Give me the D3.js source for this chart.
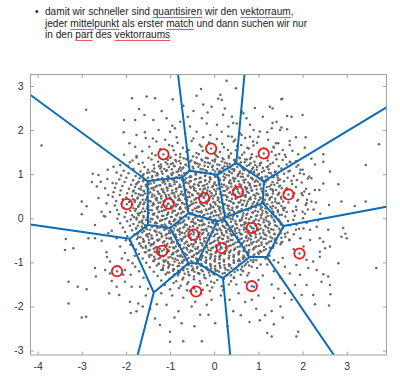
<!DOCTYPE html>
<html>
<head>
<meta charset="utf-8">
<script src="https://cdn.jsdelivr.net/npm/d3@7"></script>
<style>
  body { margin: 0; background: #fff; }
  #note {
    position: absolute; left: 45px; top: 6px;
    font-family: "Liberation Sans", Arial, sans-serif; font-size: 10.1px;
    line-height: 11.6px; color: #222; white-space: nowrap;
  }
  #note .bul { position: absolute; left: -10px; top: 0; }
  #note .sp {
    text-decoration: underline; text-decoration-color: #e8585c;
    text-decoration-thickness: 1px; text-underline-offset: 2px;
  }
  svg { position: absolute; left: 0; top: 0; }
</style>
</head>
<body>
<div id="note"><span class="bul">•</span>damit wir schneller sind <span class="sp">quantisiren</span> wir den <span class="sp">vektorraum</span>,<br>jeder <span class="sp">mittelpunkt</span> als erster <span class="sp">match</span> und dann suchen wir nur<br>in den <span class="sp">part</span> des <span class="sp">vektorraums</span></div>
<div id="viz"></div>
<script>
// centroids (red circles)
const centroids = [
  [-1.15, 1.45], [-0.07, 1.58], [1.12, 1.47],
  [-1.98, 0.32], [-1.03, 0.33], [-0.23, 0.46], [0.54, 0.6], [1.68, 0.54],
  [0.85, -0.22], [-0.47, -0.37], [-1.18, -0.74], [0.17, -0.675], [1.93, -0.8],
  [-2.2, -1.2], [-0.41, -1.66], [0.85, -1.54]
];

// sparse points around the cloud
const outerPoints = [
  [-3.91,1.65],[-2.9,2.46],[-1.86,2.72],[-1.53,2.76],[-1.34,2.72],[-1.7,2.48],[-1.58,2.34],[-2.04,2.23],[-1.79,2.23],
  [-2.05,1.95],[-1.76,1.89],[-1.57,1.95],[-1.92,1.7],[-1.79,1.62],[-1.55,1.82],[-2.04,1.44],[-1.76,1.38],[-1.91,1.27],
  [-2.13,1.21],[-2.28,1.17],[-2.41,1.1],[-2.21,1.04],[-2.75,1.01],[-2.62,0.98],[-2.42,0.89],[-2.57,0.83],[-2.77,0.82],
  [-2.66,0.72],[-2.47,0.68],[-2.3,0.8],[-2.4,0.53],[-2.62,0.46],[-3.0,0.38],[-2.89,0.27],[-2.44,0.34],[-2.55,0.15],
  [-2.36,0.14],[-3.0,0.09],[-2.5,0.05],[-2.7,-0.15],[-2.47,0.04],
  [-3.36,-0.47],[-3.19,-0.68],[-3.38,-0.72],[-2.85,-0.45],[-2.7,-0.45],[-2.55,-0.51],[-2.4,-0.34],[-2.32,-0.28],
  [-2.21,-0.45],[-2.44,-0.77],[-2.43,-0.88],[-2.36,-0.98],[-2.13,-0.64],[-2.02,-0.79],[-2.09,-0.91],[-2.7,-1.13],
  [-2.68,-1.32],[-2.47,-1.17],[-2.36,-1.25],[-2.02,-1.17],[-1.79,-1.1],[-2.06,-1.28],[-1.89,-1.28],[-2.32,-1.42],
  [-2.21,-1.55],[-2.02,-1.44],[-1.87,-1.55],[-1.68,-1.55],[-3.3,-1.44],[-3.09,-1.55],[-2.89,-1.61],[-2.38,-1.7],
  [-2.15,-1.74],[-1.91,-1.89],[-1.72,-1.93],[-1.89,-2.15],[-3.3,-1.93],[-3.0,-2.25],[-2.9,-2.23],[-1.76,-2.11],
  [-1.95,-0.95],[-1.85,-1.02],[-1.7,-1.2],[-1.6,-1.35],[-1.5,-1.6],[-1.55,-1.75],[-1.62,-2.0],[-1.9,-0.6],[-2.0,-0.5],[-1.8,-0.85],
  [0.28,3.12],[0.49,2.95],[-0.4,2.78],[0.09,2.71],[0.17,2.68],[-0.94,2.7],[-0.25,2.58],[-0.06,2.53],[0.24,2.49],
  [-1.19,2.43],[-0.47,2.43],[0.4,2.3],[-1.38,2.23],[-1.08,2.27],[-0.77,2.19],[-0.28,2.27],[-0.17,2.15],[0.06,2.12],
  [0.32,2.08],[0.51,2.15],[-0.55,2.08],[-1.26,2.0],[-1.0,1.96],[-0.89,2.04],[-0.66,1.93],[-0.4,1.96],[-0.09,1.89],
  [0.17,1.96],[0.4,1.85],[0.58,1.93],[-1.39,1.81],[-1.11,1.78],[-0.85,1.84],[-0.47,1.81],[-0.25,1.84],[0.06,1.8],
  [0.32,1.86],[0.47,1.78],[0.7,1.82],[0.81,1.85],[0.89,2.0],[0.73,2.27],[0.62,2.42],[-0.3,2.93],[0.14,2.8],[-0.6,2.3],
  [-0.95,2.1],[0.2,2.35],[-0.15,2.4],[-0.7,2.55],
  [1.52,2.7],[1.26,2.53],[0.92,2.5],[1.65,2.32],[1.32,2.16],[1.49,2.0],[0.81,2.12],[1.03,1.97],[0.62,1.89],[1.22,1.78],
  [0.88,1.74],[1.4,1.7],[1.71,1.66],[0.43,2.16],[0.66,2.38],[1.1,2.3],[1.0,1.85],[1.2,1.95],[0.75,1.6],[1.55,1.55],
  [1.9,1.45],[2.05,1.6],[2.2,1.35],[1.85,1.3],[2.0,1.1],[2.15,0.95],[1.75,0.85],
  [1.54,2.71],[1.32,2.49],[2.0,2.34],[1.75,2.3],[1.41,2.19],[1.52,2.06],[1.65,2.02],[1.3,2.04],[1.85,1.84],[2.07,1.84],
  [1.71,1.75],[1.45,1.7],[1.34,1.62],[1.77,1.53],[1.6,1.44],[3.73,1.68],[2.47,1.45],[1.41,1.34],[1.71,1.28],[1.9,1.21],
  [2.28,1.22],[2.47,1.28],[3.43,1.21],[2.62,1.06],[1.68,1.06],[1.94,1.02],[2.2,0.91],[2.47,0.79],[2.81,0.77],[2.38,0.64],
  [2.28,0.64],[1.98,0.57],[1.9,0.42],[2.09,0.34],[2.2,0.38],[2.3,0.36],[2.88,0.38],[3.18,0.28],[3.43,0.38],[1.86,0.19],
  [2.0,0.15],[1.56,0.23],[2.15,0.55],[2.25,0.2],[2.4,0.1],[2.6,0.3],[2.35,-0.05],[2.92,-0.22],[2.97,-0.35],
  [1.68,-0.15],[2.02,-0.23],[2.17,-0.26],[2.32,-0.19],[2.58,-0.26],[2.17,-0.49],[2.39,-0.45],[2.47,-0.53],[2.88,-0.42],
  [3.0,-0.45],[2.62,-0.64],[2.02,-0.64],[2.39,-0.76],[2.51,-0.68],[2.81,-1.02],[3.67,-1.13],[2.39,-0.87],[2.24,-0.98],
  [2.09,-0.94],[2.13,-1.13],[2.32,-1.17],[1.86,-1.06],[1.71,-1.25],[1.94,-1.28],[2.47,-1.27],[2.58,-1.32],[2.43,-1.44],
  [2.62,-1.51],[2.09,-1.51],[1.83,-1.51],[1.98,-1.74],[2.24,-1.74],[2.63,-1.72],[2.28,-1.95],[2.6,-1.98],[1.75,-1.85],
  [1.9,-2.57],[1.55,-0.9],[1.45,-1.0],[1.6,-1.1],[1.35,-1.2],[1.5,-1.35],[1.3,-1.5],[1.45,-1.6],[1.6,-1.7],[1.35,-1.8],
  [1.5,-2.0],[1.3,-2.1],[1.55,-2.25],[1.35,-2.4],[1.2,-2.6],[1.86,-2.68],[1.3,-2.68],[1.03,-2.31],[1.15,-2.2],[1.8,-0.7],
  [1.95,-0.45],[1.7,-0.5],[1.6,-0.35],[1.25,-0.85],[1.35,-0.95],[1.2,-1.05],[1.1,-1.3],
  [-1.34,-2.27],[-1.23,-2.42],[-1.0,-2.57],[-0.74,-2.38],[-0.51,-2.0],[-0.32,-2.19],[-0.13,-2.19],[0.02,-2.38],
  [-0.28,-2.79],[-0.7,-2.79],[-1.0,-2.8],[-1.08,-1.96],[-0.81,-2.11],[-0.43,-1.89],[-0.17,-1.96],[-0.06,-1.85],
  [0.43,-2.11],[-1.2,-1.7],[-0.95,-1.75],[-0.7,-1.8],[-0.55,-1.65],[-0.3,-1.7],[-0.1,-1.65],[0.15,-1.75],[0.35,-1.85],
  [0.55,-1.7],[0.7,-1.9],[0.85,-1.85],[1.0,-1.75],[0.6,-2.2],[0.8,-2.35],[0.95,-2.05],[0.3,-2.45],[-0.45,-2.45],
  [-0.9,-2.25],[-1.3,-1.95],[-1.45,-2.05],[0.5,-1.5],[0.7,-1.45],[0.9,-1.55],[0.65,-1.2],[0.85,-1.1],[1.0,-1.4],
  [0.45,-1.35],[0.75,-1.3],[0.95,-0.95]
];

// middle of the cloud
const corePoints = [
  [-1.31,1.74],[-1.02,1.66],[-0.83,1.71],[-0.51,1.75],[-0.33,1.67],[-0.12,1.72],[0.18,1.69],[0.44,1.74],[0.61,1.66],[0.97,1.71],
  [-1.47,1.62],[-1.22,1.57],[-0.95,1.64],[-0.71,1.6],[-0.58,1.55],[-0.29,1.63],[0.22,1.61],[0.31,1.55],[0.52,1.64],[0.78,1.58],[0.89,1.65],[1.35,1.6],
  [-1.63,1.52],[-1.41,1.47],[-0.92,1.54],[-0.77,1.46],[-0.63,1.51],[-0.4,1.48],[-0.26,1.53],[0.02,1.45],[0.13,1.5],[0.38,1.47],[0.49,1.54],[0.68,1.49],[0.85,1.45],[1.3,1.51],[1.47,1.46],
  [-1.76,1.41],[-1.49,1.37],[-1.33,1.43],[-0.99,1.38],[-0.87,1.44],[-0.69,1.36],[-0.48,1.4],[-0.35,1.45],[-0.19,1.37],[0.05,1.42],[0.19,1.36],[0.33,1.41],[0.57,1.38],[0.63,1.44],[0.81,1.35],[0.96,1.4],[1.2,1.37],[1.39,1.43],[1.62,1.39],
  [-1.85,1.31],[-1.62,1.26],[-1.42,1.33],[-1.27,1.28],[-1.05,1.32],[-0.94,1.25],[-0.79,1.3],[-0.61,1.34],[-0.44,1.27],[-0.27,1.31],[-0.14,1.26],[0.02,1.33],[0.17,1.29],[0.29,1.24],[0.46,1.32],[0.6,1.27],[0.74,1.33],[0.91,1.28],[1.04,1.25],[1.21,1.31],[1.33,1.26],[1.55,1.32],[1.72,1.27],
  [-1.95,1.19],[-1.71,1.23],[-1.58,1.16],[-1.37,1.21],[-1.2,1.17],[-1.06,1.23],[-0.9,1.18],[-0.77,1.15],[-0.65,1.22],[-0.49,1.17],[-0.38,1.24],[-0.22,1.19],[-0.05,1.16],[0.07,1.22],[0.23,1.18],[0.36,1.15],[0.48,1.23],[0.62,1.17],[0.79,1.21],[0.88,1.15],[1.03,1.2],[1.19,1.16],[1.27,1.23],[1.46,1.18],[1.64,1.22],[1.86,1.17],
  [-2.05,1.08],[-1.83,1.12],[-1.67,1.06],[-1.5,1.1],[-1.35,1.05],[-1.22,1.13],[-1.09,1.07],[-0.96,1.11],[-0.82,1.06],[-0.72,1.13],[-0.56,1.08],[-0.43,1.05],[-0.31,1.12],[-0.17,1.07],[-0.03,1.1],[0.1,1.05],[0.2,1.13],[0.33,1.08],[0.45,1.11],[0.58,1.06],[0.69,1.12],[0.83,1.07],[0.96,1.1],[1.08,1.05],[1.23,1.11],[1.39,1.06],[1.52,1.13],[1.71,1.08],[1.95,1.1],
  [-2.11,0.97],[-1.94,1.02],[-1.78,0.96],[-1.6,1.0],[-1.47,1.04],[-1.31,0.97],[-1.17,1.01],[-1.04,0.95],[-0.93,1.03],[-0.8,0.98],[-0.68,1.02],[-0.54,0.96],[-0.42,1.0],[-0.29,1.04],[-0.2,0.97],[-0.07,1.01],[0.05,0.95],[0.16,1.03],[0.28,0.98],[0.4,1.02],[0.53,0.96],[0.64,1.01],[0.77,0.97],[0.9,1.04],[1.01,0.99],[1.16,0.95],[1.28,1.02],[1.43,0.97],[1.58,1.01],[1.8,0.96],[2.03,1.0],
  [-2.15,0.88],[-1.99,0.92],[-1.84,0.86],[-1.69,0.91],[-1.55,0.87],[-1.41,0.93],[-1.28,0.88],[-1.15,0.85],[-1.03,0.92],[-0.91,0.87],[-0.79,0.91],[-0.67,0.86],[-0.56,0.93],[-0.44,0.88],[-0.33,0.91],[-0.21,0.85],[-0.09,0.9],[0.02,0.94],[0.13,0.87],[0.25,0.92],[0.36,0.86],[0.48,0.9],[0.6,0.94],[0.71,0.88],[0.83,0.92],[0.95,0.86],[1.07,0.91],[1.2,0.87],[1.34,0.93],[1.49,0.88],[1.66,0.92],[1.87,0.87],[2.12,0.9],
  [-2.22,0.79],[-2.03,0.82],[-1.88,0.76],[-1.74,0.8],[-1.61,0.84],[-1.49,0.77],[-1.36,0.81],[-1.24,0.75],[-1.13,0.83],[-1.01,0.78],[-0.9,0.82],[-0.78,0.76],[-0.67,0.8],[-0.55,0.84],[-0.45,0.77],[-0.34,0.81],[-0.22,0.75],[-0.11,0.83],[0.0,0.78],[0.11,0.82],[0.22,0.76],[0.34,0.8],[0.45,0.84],[0.57,0.77],[0.68,0.81],[0.8,0.75],[0.92,0.83],[1.04,0.78],[1.16,0.82],[1.29,0.76],[1.43,0.8],[1.58,0.84],[1.76,0.78],[1.98,0.81],
  [-2.25,0.69],[-2.08,0.73],[-1.93,0.67],[-1.79,0.71],[-1.66,0.65],[-1.54,0.72],[-1.42,0.68],[-1.3,0.74],[-1.19,0.66],[-1.08,0.7],[-0.97,0.73],[-0.87,0.67],[-0.76,0.71],[-0.66,0.65],[-0.55,0.72],[-0.45,0.68],[-0.35,0.74],[-0.24,0.66],[-0.14,0.7],[-0.03,0.73],[0.07,0.67],[0.18,0.71],[0.29,0.65],[0.39,0.72],[0.5,0.68],[0.61,0.74],[0.72,0.66],[0.83,0.7],[0.95,0.73],[1.07,0.67],[1.19,0.71],[1.32,0.65],[1.47,0.72],[1.64,0.68],[1.85,0.71],[2.08,0.67],
  [-2.28,0.59],[-2.12,0.63],[-1.97,0.57],[-1.84,0.61],[-1.71,0.55],[-1.59,0.62],[-1.48,0.58],[-1.37,0.64],[-1.26,0.56],[-1.16,0.6],[-1.06,0.63],[-0.96,0.57],[-0.86,0.61],[-0.76,0.55],[-0.66,0.62],[-0.56,0.58],[-0.46,0.64],[-0.36,0.56],[-0.26,0.6],[-0.16,0.63],[-0.06,0.57],[0.04,0.61],[0.14,0.55],[0.24,0.62],[0.34,0.58],[0.44,0.64],[0.64,0.56],[0.74,0.6],[0.85,0.63],[0.96,0.57],[1.08,0.61],[1.2,0.55],[1.33,0.62],[1.47,0.58],[1.62,0.64],[1.81,0.57],[2.04,0.61],
  [-2.3,0.49],[-2.14,0.53],[-1.99,0.47],[-1.86,0.51],[-1.74,0.45],[-1.62,0.52],[-1.51,0.48],[-1.4,0.54],[-1.3,0.46],[-1.2,0.5],[-1.1,0.53],[-1.0,0.47],[-0.9,0.51],[-0.8,0.45],[-0.7,0.52],[-0.6,0.48],[-0.5,0.54],[-0.4,0.46],[-0.3,0.5],[-0.2,0.53],[-0.1,0.47],[0.0,0.51],[0.1,0.45],[0.2,0.52],[0.3,0.48],[0.4,0.54],[0.5,0.46],[0.6,0.5],[0.71,0.53],[0.82,0.47],[0.93,0.51],[1.05,0.45],[1.17,0.52],[1.3,0.48],[1.44,0.54],[1.6,0.46],[1.78,0.5],[2.0,0.52],
  [-2.22,0.39],[-2.07,0.43],[-1.93,0.37],[-1.8,0.41],[-1.67,0.36],[-1.55,0.42],[-1.44,0.38],[-1.33,0.44],[-1.22,0.36],[-1.12,0.4],[-0.92,0.37],[-0.82,0.41],[-0.72,0.35],[-0.62,0.42],[-0.52,0.38],[-0.42,0.44],[-0.32,0.36],[-0.12,0.43],[-0.02,0.37],[0.08,0.41],[0.18,0.35],[0.28,0.42],[0.38,0.38],[0.48,0.44],[0.58,0.36],[0.68,0.4],[0.79,0.43],[0.9,0.37],[1.01,0.41],[1.13,0.35],[1.25,0.42],[1.38,0.38],[1.52,0.44],[1.68,0.36],[1.88,0.4],[2.1,0.42],
  [-2.25,0.29],[-2.1,0.33],[-1.85,0.31],[-1.72,0.26],[-1.6,0.32],[-1.49,0.28],[-1.38,0.34],[-1.27,0.26],[-1.17,0.3],[-0.97,0.27],[-0.87,0.31],[-0.77,0.25],[-0.67,0.32],[-0.57,0.28],[-0.47,0.34],[-0.37,0.26],[-0.27,0.3],[-0.17,0.33],[-0.07,0.27],[0.03,0.31],[0.13,0.25],[0.23,0.32],[0.33,0.28],[0.43,0.34],[0.53,0.26],[0.63,0.3],[0.74,0.33],[0.85,0.27],[0.96,0.31],[1.08,0.25],[1.2,0.32],[1.33,0.28],[1.47,0.34],[1.85,0.26],[2.07,0.3],
  [-2.2,0.19],[-2.04,0.23],[-1.9,0.17],[-1.77,0.21],[-1.64,0.15],[-1.52,0.22],[-1.41,0.18],[-1.3,0.24],[-1.19,0.16],[-1.09,0.2],[-0.99,0.23],[-0.89,0.17],[-0.79,0.21],[-0.69,0.15],[-0.59,0.22],[-0.49,0.18],[-0.39,0.24],[-0.29,0.16],[-0.19,0.2],[-0.09,0.23],[0.01,0.17],[0.11,0.21],[0.21,0.15],[0.31,0.22],[0.41,0.18],[0.51,0.24],[0.61,0.16],[0.71,0.2],[0.82,0.23],[0.93,0.17],[1.05,0.21],[1.17,0.15],[1.3,0.22],[1.44,0.18],[1.6,0.24],[1.78,0.16],[2.12,0.2],
  [-2.16,0.09],[-2.0,0.13],[-1.86,0.07],[-1.73,0.11],[-1.6,0.05],[-1.48,0.12],[-1.37,0.08],[-1.26,0.14],[-1.15,0.06],[-1.05,0.1],[-0.95,0.13],[-0.85,0.07],[-0.75,0.11],[-0.65,0.05],[-0.55,0.12],[-0.45,0.08],[-0.35,0.14],[-0.25,0.06],[-0.15,0.1],[-0.05,0.13],[0.05,0.07],[0.15,0.11],[0.25,0.05],[0.35,0.12],[0.45,0.08],[0.55,0.14],[0.65,0.06],[0.75,0.1],[0.86,0.13],[0.97,0.07],[1.09,0.11],[1.21,0.05],[1.34,0.12],[1.48,0.08],[1.64,0.14],[1.82,0.06],[2.05,0.1],
  [-2.19,-0.01],[-2.03,0.03],[-1.89,-0.03],[-1.76,0.01],[-1.63,-0.05],[-1.51,0.02],[-1.4,-0.02],[-1.29,0.04],[-1.18,-0.04],[-1.08,0.0],[-0.98,0.03],[-0.88,-0.03],[-0.78,0.01],[-0.68,-0.05],[-0.58,0.02],[-0.48,-0.02],[-0.38,0.04],[-0.28,-0.04],[-0.18,0.0],[-0.08,0.03],[0.02,-0.03],[0.12,0.01],[0.22,-0.05],[0.32,0.02],[0.42,-0.02],[0.52,0.04],[0.62,-0.04],[0.72,0.0],[0.83,0.03],[0.94,-0.03],[1.06,0.01],[1.18,-0.05],[1.31,0.02],[1.45,-0.02],[1.61,0.04],[1.79,-0.04],[2.01,0.0],
  [-2.13,-0.11],[-1.97,-0.07],[-1.83,-0.13],[-1.7,-0.09],[-1.57,-0.15],[-1.45,-0.08],[-1.34,-0.12],[-1.23,-0.06],[-1.12,-0.14],[-1.02,-0.1],[-0.92,-0.07],[-0.82,-0.13],[-0.72,-0.09],[-0.62,-0.15],[-0.52,-0.08],[-0.42,-0.12],[-0.32,-0.06],[-0.22,-0.14],[-0.12,-0.1],[-0.02,-0.07],[0.08,-0.13],[0.18,-0.09],[0.28,-0.15],[0.38,-0.08],[0.48,-0.12],[0.58,-0.06],[0.68,-0.14],[0.78,-0.1],[0.89,-0.07],[1.0,-0.13],[1.12,-0.09],[1.24,-0.15],[1.37,-0.08],[1.51,-0.12],[1.67,-0.06],[1.86,-0.14],[2.09,-0.1],
  [-2.07,-0.21],[-1.91,-0.17],[-1.77,-0.23],[-1.64,-0.19],[-1.52,-0.25],[-1.4,-0.18],[-1.29,-0.22],[-1.18,-0.16],[-1.08,-0.24],[-0.98,-0.2],[-0.88,-0.17],[-0.78,-0.23],[-0.68,-0.19],[-0.58,-0.25],[-0.48,-0.18],[-0.38,-0.22],[-0.28,-0.16],[-0.18,-0.24],[-0.08,-0.2],[0.02,-0.17],[0.12,-0.23],[0.22,-0.19],[0.32,-0.25],[0.42,-0.18],[0.52,-0.22],[0.62,-0.16],[0.72,-0.24],[0.94,-0.17],[1.05,-0.23],[1.17,-0.19],[1.29,-0.25],[1.42,-0.18],[1.56,-0.22],[1.72,-0.16],[1.92,-0.24],
  [-2.02,-0.31],[-1.86,-0.27],[-1.72,-0.33],[-1.59,-0.29],[-1.47,-0.35],[-1.35,-0.28],[-1.24,-0.32],[-1.13,-0.26],[-1.03,-0.34],[-0.93,-0.3],[-0.83,-0.27],[-0.73,-0.33],[-0.63,-0.29],[-0.53,-0.35],[-0.33,-0.32],[-0.23,-0.26],[-0.13,-0.34],[-0.03,-0.3],[0.07,-0.27],[0.17,-0.33],[0.27,-0.29],[0.37,-0.35],[0.47,-0.28],[0.57,-0.32],[0.67,-0.26],[0.77,-0.34],[0.88,-0.3],[0.99,-0.27],[1.11,-0.33],[1.23,-0.29],[1.36,-0.35],[1.5,-0.28],[1.66,-0.32],[1.85,-0.26],
  [-1.97,-0.41],[-1.81,-0.37],[-1.67,-0.43],[-1.54,-0.39],[-1.42,-0.45],[-1.3,-0.38],[-1.19,-0.42],[-1.08,-0.36],[-0.98,-0.44],[-0.88,-0.4],[-0.78,-0.37],[-0.68,-0.43],[-0.58,-0.39],[-0.38,-0.42],[-0.28,-0.36],[-0.18,-0.44],[-0.08,-0.4],[0.02,-0.37],[0.12,-0.43],[0.22,-0.39],[0.32,-0.45],[0.42,-0.38],[0.52,-0.42],[0.62,-0.36],[0.72,-0.44],[0.83,-0.4],[0.94,-0.37],[1.06,-0.43],[1.18,-0.39],[1.31,-0.45],[1.45,-0.38],[1.61,-0.42],[1.8,-0.36],
  [-1.91,-0.51],[-1.75,-0.47],[-1.61,-0.53],[-1.48,-0.49],[-1.36,-0.55],[-1.24,-0.48],[-1.13,-0.52],[-1.02,-0.46],[-0.92,-0.54],[-0.82,-0.5],[-0.72,-0.47],[-0.62,-0.53],[-0.52,-0.49],[-0.42,-0.55],[-0.32,-0.48],[-0.22,-0.52],[-0.12,-0.46],[-0.02,-0.54],[0.08,-0.5],[0.18,-0.47],[0.28,-0.53],[0.38,-0.49],[0.48,-0.55],[0.58,-0.48],[0.68,-0.52],[0.78,-0.46],[0.89,-0.54],[1.0,-0.5],[1.12,-0.47],[1.24,-0.53],[1.37,-0.49],[1.52,-0.55],[1.7,-0.48],
  [-1.85,-0.61],[-1.69,-0.57],[-1.55,-0.63],[-1.42,-0.59],[-1.3,-0.65],[-1.08,-0.62],[-0.97,-0.56],[-0.87,-0.64],[-0.77,-0.6],[-0.67,-0.57],[-0.57,-0.63],[-0.47,-0.59],[-0.37,-0.65],[-0.27,-0.58],[-0.17,-0.62],[-0.07,-0.56],[0.03,-0.64],[0.13,-0.6],[0.23,-0.57],[0.33,-0.63],[0.43,-0.59],[0.53,-0.65],[0.63,-0.58],[0.73,-0.62],[0.84,-0.56],[0.95,-0.64],[1.07,-0.6],[1.2,-0.57],[1.34,-0.63],[1.5,-0.59],
  [-1.77,-0.71],[-1.62,-0.67],[-1.49,-0.73],[-1.37,-0.69],[-1.25,-0.75],[-1.04,-0.72],[-0.93,-0.66],[-0.83,-0.74],[-0.73,-0.7],[-0.63,-0.67],[-0.53,-0.73],[-0.43,-0.69],[-0.33,-0.75],[-0.23,-0.68],[-0.13,-0.72],[-0.03,-0.66],[0.07,-0.74],[0.27,-0.67],[0.37,-0.73],[0.47,-0.69],[0.57,-0.75],[0.68,-0.68],[0.79,-0.72],[0.91,-0.66],[1.03,-0.74],[1.17,-0.7],[1.33,-0.67],
  [-1.7,-0.81],[-1.55,-0.77],[-1.42,-0.83],[-1.3,-0.79],[-1.18,-0.85],[-1.07,-0.78],[-0.96,-0.82],[-0.86,-0.76],[-0.76,-0.84],[-0.66,-0.8],[-0.56,-0.77],[-0.46,-0.83],[-0.36,-0.79],[-0.26,-0.85],[-0.16,-0.78],[-0.06,-0.82],[0.04,-0.76],[0.14,-0.84],[0.24,-0.8],[0.34,-0.77],[0.44,-0.83],[0.55,-0.79],[0.66,-0.85],[0.78,-0.78],[0.91,-0.82],[1.06,-0.76],[1.23,-0.84],
  [-1.62,-0.91],[-1.47,-0.87],[-1.34,-0.93],[-1.22,-0.89],[-1.1,-0.95],[-0.99,-0.88],[-0.88,-0.92],[-0.78,-0.86],[-0.68,-0.94],[-0.58,-0.9],[-0.48,-0.87],[-0.38,-0.93],[-0.28,-0.89],[-0.18,-0.95],[-0.08,-0.88],[0.02,-0.92],[0.12,-0.86],[0.22,-0.94],[0.33,-0.9],[0.44,-0.87],[0.56,-0.93],[0.69,-0.89],[0.83,-0.95],[0.99,-0.88],[1.16,-0.92],
  [-1.54,-1.01],[-1.38,-0.97],[-1.25,-1.03],[-1.13,-0.99],[-1.01,-1.05],[-0.9,-0.98],[-0.79,-1.02],[-0.69,-0.96],[-0.59,-1.04],[-0.49,-1.0],[-0.39,-0.97],[-0.29,-1.03],[-0.19,-0.99],[-0.09,-1.05],[0.01,-0.98],[0.11,-1.02],[0.22,-0.96],[0.33,-1.04],[0.45,-1.0],[0.58,-0.97],[0.72,-1.03],[0.88,-0.99],[1.05,-1.05],
  [-1.46,-1.11],[-1.3,-1.07],[-1.16,-1.13],[-1.03,-1.09],[-0.91,-1.15],[-0.8,-1.08],[-0.69,-1.12],[-0.58,-1.06],[-0.48,-1.14],[-0.38,-1.1],[-0.28,-1.07],[-0.18,-1.13],[-0.08,-1.09],[0.02,-1.15],[0.13,-1.08],[0.24,-1.12],[0.36,-1.06],[0.49,-1.14],[0.63,-1.1],[0.79,-1.07],[0.97,-1.13],
  [-1.37,-1.21],[-1.2,-1.17],[-1.06,-1.23],[-0.93,-1.19],[-0.81,-1.25],[-0.7,-1.18],[-0.59,-1.22],[-0.48,-1.16],[-0.37,-1.24],[-0.26,-1.2],[-0.15,-1.17],[-0.04,-1.23],[0.07,-1.19],[0.19,-1.25],[0.32,-1.18],[0.46,-1.22],[0.61,-1.16],[0.78,-1.24],
  [-1.28,-1.31],[-1.1,-1.27],[-0.95,-1.33],[-0.82,-1.29],[-0.7,-1.35],[-0.58,-1.28],[-0.46,-1.32],[-0.34,-1.26],[-0.22,-1.34],[-0.1,-1.3],[0.02,-1.27],[0.15,-1.33],[0.29,-1.29],[0.44,-1.35],[0.6,-1.28],
  [-1.2,-1.41],[-1.01,-1.37],[-0.86,-1.43],[-0.72,-1.39],[-0.59,-1.45],[-0.46,-1.38],[-0.33,-1.42],[-0.2,-1.36],[-0.07,-1.44],[0.07,-1.4],[0.22,-1.37],[0.38,-1.43],
  [-1.12,-1.51],[-0.92,-1.47],[-0.76,-1.53],[-0.61,-1.49],[-0.46,-1.55],[-0.31,-1.48],[-0.16,-1.52],[0.0,-1.46],[0.17,-1.54],[0.33,-1.5],
  [-1.0,-1.61],[-0.8,-1.58],[-0.62,-1.63],[-0.45,-1.59],[-0.26,-1.62],[-0.05,-1.57],[0.2,-1.63]
];

// densest part, between the rows above
const densePoints = [
  [-1.0,1.37],[-0.88,1.32],[-0.77,1.39],[-0.63,1.34],[-0.52,1.31],[-0.4,1.38],[-0.29,1.33],[-0.15,1.36],[-0.04,1.31],[0.08,1.39],[0.21,1.34],[0.33,1.37],[0.45,1.32],[0.58,1.36],[0.7,1.33],[0.84,1.38],
  [-1.21,1.22],[-1.1,1.27],[-0.98,1.23],[-0.86,1.29],[-0.76,1.24],[-0.64,1.21],[-0.55,1.28],[-0.43,1.25],[-0.33,1.22],[-0.21,1.27],[-0.1,1.24],[0.01,1.29],[0.12,1.21],[0.24,1.26],[0.35,1.23],[0.47,1.28],[0.58,1.22],[0.69,1.27],[0.82,1.25],[0.93,1.21],[1.06,1.26],
  [-1.36,1.13],[-1.25,1.18],[-1.13,1.12],[-1.03,1.16],[-0.91,1.19],[-0.8,1.11],[-0.7,1.15],[-0.58,1.18],[-0.47,1.13],[-0.36,1.17],[-0.26,1.11],[-0.14,1.16],[-0.03,1.19],[0.07,1.12],[0.18,1.14],[0.3,1.18],[0.41,1.11],[0.52,1.17],[0.64,1.13],[0.74,1.19],[0.86,1.12],[0.97,1.16],[1.1,1.14],[1.22,1.18],
  [-1.52,1.03],[-1.4,1.07],[-1.29,1.02],[-1.19,1.06],[-1.07,1.09],[-0.97,1.01],[-0.85,1.05],[-0.75,1.08],[-0.63,1.03],[-0.53,1.07],[-0.41,1.01],[-0.31,1.04],[-0.2,1.09],[-0.09,1.02],[0.02,1.06],[0.13,1.08],[0.23,1.01],[0.35,1.05],[0.45,1.07],[0.57,1.02],[0.67,1.09],[0.79,1.04],[0.9,1.06],[1.01,1.01],[1.13,1.08],[1.24,1.03],[1.37,1.05],
  [-1.62,0.97],[-1.5,0.92],[-1.4,0.96],[-1.28,0.99],[-1.18,0.91],[-1.06,0.95],[-0.96,0.98],[-0.86,0.93],[-0.74,0.97],[-0.64,0.91],[-0.52,0.94],[-0.42,0.99],[-0.31,0.92],[-0.21,0.96],[-0.1,0.93],[0.0,0.98],[0.11,0.91],[0.21,0.95],[0.33,0.97],[0.43,0.92],[0.54,0.99],[0.65,0.94],[0.76,0.96],[0.86,0.91],[0.98,0.98],[1.08,0.93],[1.2,0.95],[1.31,0.97],[1.44,0.92],
  [-1.71,0.83],[-1.6,0.87],[-1.49,0.82],[-1.39,0.86],[-1.27,0.89],[-1.17,0.81],[-1.05,0.85],[-0.95,0.88],[-0.85,0.83],[-0.73,0.87],[-0.63,0.81],[-0.53,0.84],[-0.41,0.89],[-0.3,0.82],[-0.2,0.86],[-0.09,0.88],[0.01,0.81],[0.12,0.85],[0.22,0.87],[0.34,0.82],[0.44,0.89],[0.55,0.84],[0.66,0.86],[0.77,0.81],[0.87,0.88],[0.99,0.83],[1.09,0.85],[1.21,0.87],[1.32,0.82],[1.45,0.86],
  [-1.77,0.77],[-1.65,0.72],[-1.55,0.76],[-1.44,0.79],[-1.33,0.71],[-1.22,0.75],[-1.11,0.78],[-1.01,0.73],[-0.9,0.77],[-0.8,0.71],[-0.69,0.74],[-0.58,0.79],[-0.48,0.72],[-0.37,0.76],[-0.26,0.73],[-0.16,0.78],[-0.05,0.71],[0.05,0.75],[0.16,0.77],[0.27,0.72],[0.38,0.79],[0.48,0.74],[0.59,0.76],[0.7,0.71],[0.81,0.78],[0.91,0.73],[1.03,0.75],[1.13,0.77],[1.25,0.72],[1.36,0.76],[1.49,0.74],
  [-1.82,0.63],[-1.7,0.67],[-1.6,0.62],[-1.49,0.66],[-1.38,0.69],[-1.28,0.61],[-1.16,0.65],[-1.06,0.68],[-0.95,0.63],[-0.85,0.67],[-0.74,0.61],[-0.63,0.64],[-0.53,0.69],[-0.42,0.62],[-0.32,0.66],[-0.21,0.68],[-0.1,0.61],[0.0,0.65],[0.11,0.67],[0.21,0.62],[0.32,0.69],[0.43,0.64],[0.53,0.66],[0.64,0.61],[0.74,0.68],[0.85,0.63],[0.96,0.65],[1.06,0.67],[1.17,0.62],[1.28,0.66],[1.4,0.64],[1.53,0.68],
  [-1.78,0.57],[-1.67,0.52],[-1.57,0.56],[-1.45,0.59],[-1.35,0.51],[-1.24,0.55],[-1.13,0.58],[-1.03,0.53],[-0.91,0.57],[-0.81,0.51],[-0.71,0.54],[-0.59,0.59],[-0.49,0.52],[-0.38,0.56],[-0.28,0.53],[-0.17,0.58],[-0.06,0.51],[0.04,0.55],[0.15,0.57],[0.25,0.52],[0.36,0.59],[0.47,0.54],[0.57,0.56],[0.68,0.51],[0.78,0.58],[0.89,0.53],[1.0,0.55],[1.11,0.57],[1.21,0.52],[1.33,0.56],[1.45,0.54],[1.58,0.58],
  [-1.84,0.43],[-1.73,0.47],[-1.62,0.42],[-1.52,0.46],[-1.41,0.49],[-1.3,0.41],[-1.2,0.45],[-1.09,0.48],[-0.98,0.43],[-0.88,0.47],[-0.77,0.41],[-0.66,0.44],[-0.56,0.49],[-0.45,0.42],[-0.35,0.46],[-0.24,0.48],[-0.13,0.41],[-0.03,0.45],[0.08,0.47],[0.18,0.42],[0.29,0.49],[0.4,0.44],[0.5,0.46],[0.61,0.41],[0.71,0.48],[0.82,0.43],[0.93,0.45],[1.04,0.47],[1.15,0.42],[1.26,0.46],[1.38,0.44],[1.51,0.48],
  [-1.8,0.37],[-1.69,0.32],[-1.58,0.36],[-1.47,0.39],[-1.37,0.31],[-1.26,0.35],[-1.15,0.38],[-1.05,0.33],[-0.94,0.37],[-0.83,0.31],[-0.73,0.34],[-0.62,0.39],[-0.51,0.32],[-0.41,0.36],[-0.3,0.33],[-0.19,0.38],[-0.09,0.31],[0.02,0.35],[0.12,0.37],[0.23,0.32],[0.34,0.39],[0.44,0.34],[0.55,0.36],[0.65,0.31],[0.76,0.38],[0.87,0.33],[0.98,0.35],[1.08,0.37],[1.19,0.32],[1.31,0.36],[1.43,0.34],[1.56,0.38],
  [-1.83,0.23],[-1.72,0.27],[-1.61,0.22],[-1.51,0.26],[-1.4,0.29],[-1.29,0.21],[-1.19,0.25],[-1.08,0.28],[-0.97,0.23],[-0.87,0.27],[-0.76,0.21],[-0.65,0.24],[-0.55,0.29],[-0.44,0.22],[-0.34,0.26],[-0.23,0.28],[-0.12,0.21],[-0.02,0.25],[0.09,0.27],[0.19,0.22],[0.3,0.29],[0.41,0.24],[0.51,0.26],[0.62,0.21],[0.72,0.28],[0.83,0.23],[0.94,0.25],[1.05,0.27],[1.16,0.22],[1.27,0.26],[1.39,0.24],[1.52,0.28],
  [-1.79,0.17],[-1.68,0.12],[-1.57,0.16],[-1.46,0.19],[-1.36,0.11],[-1.25,0.15],[-1.14,0.18],[-1.04,0.13],[-0.93,0.17],[-0.82,0.11],[-0.72,0.14],[-0.61,0.19],[-0.5,0.12],[-0.4,0.16],[-0.29,0.13],[-0.18,0.18],[-0.08,0.11],[0.03,0.15],[0.13,0.17],[0.24,0.12],[0.35,0.19],[0.45,0.14],[0.56,0.16],[0.66,0.11],[0.77,0.18],[0.88,0.13],[0.99,0.15],[1.09,0.17],[1.2,0.12],[1.32,0.16],[1.44,0.14],[1.57,0.18],
  [-1.82,0.03],[-1.71,0.07],[-1.6,0.02],[-1.5,0.06],[-1.39,0.09],[-1.28,0.01],[-1.18,0.05],[-1.07,0.08],[-0.96,0.03],[-0.86,0.07],[-0.75,0.01],[-0.64,0.04],[-0.54,0.09],[-0.43,0.02],[-0.33,0.06],[-0.22,0.08],[-0.11,0.01],[-0.01,0.05],[0.1,0.07],[0.2,0.02],[0.31,0.09],[0.42,0.04],[0.52,0.06],[0.63,0.01],[0.73,0.08],[0.84,0.03],[0.95,0.05],[1.06,0.07],[1.17,0.02],[1.28,0.06],[1.4,0.04],[1.53,0.08],
  [-1.76,-0.03],[-1.65,-0.08],[-1.54,-0.04],[-1.44,-0.01],[-1.33,-0.09],[-1.22,-0.05],[-1.12,-0.02],[-1.01,-0.07],[-0.9,-0.03],[-0.8,-0.09],[-0.69,-0.06],[-0.58,-0.01],[-0.48,-0.08],[-0.37,-0.04],[-0.27,-0.07],[-0.16,-0.02],[-0.05,-0.09],[0.05,-0.05],[0.16,-0.03],[0.26,-0.08],[0.37,-0.01],[0.48,-0.06],[0.58,-0.04],[0.69,-0.09],[0.79,-0.02],[0.9,-0.07],[1.01,-0.05],[1.12,-0.03],[1.23,-0.08],[1.35,-0.04],[1.48,-0.06],
  [-1.73,-0.17],[-1.62,-0.12],[-1.51,-0.16],[-1.41,-0.19],[-1.3,-0.11],[-1.19,-0.15],[-1.09,-0.18],[-0.98,-0.13],[-0.87,-0.17],[-0.77,-0.11],[-0.66,-0.14],[-0.55,-0.19],[-0.45,-0.12],[-0.34,-0.16],[-0.24,-0.13],[-0.13,-0.18],[-0.02,-0.11],[0.08,-0.15],[0.19,-0.17],[0.29,-0.12],[0.4,-0.19],[0.51,-0.14],[0.61,-0.16],[0.72,-0.11],[0.82,-0.18],[0.93,-0.13],[1.04,-0.15],[1.15,-0.17],[1.26,-0.12],[1.38,-0.16],[1.51,-0.14],
  [-1.77,-0.23],[-1.66,-0.27],[-1.55,-0.22],[-1.45,-0.26],[-1.34,-0.29],[-1.23,-0.21],[-1.13,-0.25],[-1.02,-0.28],[-0.91,-0.23],[-0.81,-0.27],[-0.7,-0.21],[-0.59,-0.24],[-0.49,-0.29],[-0.38,-0.22],[-0.28,-0.26],[-0.17,-0.28],[-0.06,-0.21],[0.04,-0.25],[0.15,-0.27],[0.25,-0.22],[0.36,-0.29],[0.47,-0.24],[0.57,-0.26],[0.68,-0.21],[0.78,-0.28],[0.89,-0.23],[1.0,-0.25],[1.11,-0.27],[1.22,-0.22],[1.34,-0.26],[1.47,-0.24],
  [-1.74,-0.37],[-1.63,-0.32],[-1.52,-0.36],[-1.42,-0.39],[-1.31,-0.31],[-1.2,-0.35],[-1.1,-0.38],[-0.99,-0.33],[-0.88,-0.37],[-0.78,-0.31],[-0.67,-0.34],[-0.56,-0.39],[-0.46,-0.32],[-0.35,-0.36],[-0.25,-0.33],[-0.14,-0.38],[-0.03,-0.31],[0.07,-0.35],[0.18,-0.37],[0.28,-0.32],[0.39,-0.39],[0.5,-0.34],[0.6,-0.36],[0.71,-0.31],[0.81,-0.38],[0.92,-0.33],[1.03,-0.35],[1.14,-0.37],[1.25,-0.32],[1.37,-0.36],[1.5,-0.34],
  [-1.72,-0.43],[-1.61,-0.47],[-1.5,-0.42],[-1.4,-0.46],[-1.29,-0.49],[-1.18,-0.41],[-1.08,-0.45],[-0.97,-0.48],[-0.86,-0.43],[-0.76,-0.47],[-0.65,-0.41],[-0.54,-0.44],[-0.44,-0.49],[-0.33,-0.42],[-0.23,-0.46],[-0.12,-0.48],[-0.01,-0.41],[0.09,-0.45],[0.2,-0.47],[0.3,-0.42],[0.41,-0.49],[0.52,-0.44],[0.62,-0.46],[0.73,-0.41],[0.83,-0.48],[0.94,-0.43],[1.05,-0.45],[1.16,-0.47],[1.27,-0.42],[1.39,-0.46],[1.52,-0.44],
  [-1.7,-0.57],[-1.59,-0.52],[-1.48,-0.56],[-1.38,-0.59],[-1.27,-0.51],[-1.16,-0.55],[-1.06,-0.58],[-0.95,-0.53],[-0.84,-0.57],[-0.74,-0.51],[-0.63,-0.54],[-0.52,-0.59],[-0.42,-0.52],[-0.31,-0.56],[-0.21,-0.53],[-0.1,-0.58],[0.01,-0.51],[0.11,-0.55],[0.22,-0.57],[0.32,-0.52],[0.43,-0.59],[0.54,-0.54],[0.64,-0.56],[0.75,-0.51],[0.85,-0.58],[0.96,-0.53],[1.07,-0.55],[1.18,-0.57],[1.29,-0.52],[1.41,-0.56],[1.54,-0.54],
  [-1.66,-0.63],[-1.55,-0.67],[-1.44,-0.62],[-1.33,-0.66],[-1.23,-0.69],[-1.12,-0.61],[-1.01,-0.65],[-0.91,-0.68],[-0.8,-0.63],[-0.69,-0.67],[-0.59,-0.61],[-0.48,-0.64],[-0.38,-0.69],[-0.27,-0.62],[-0.16,-0.66],[-0.06,-0.68],[0.05,-0.61],[0.15,-0.65],[0.26,-0.67],[0.37,-0.62],[0.47,-0.69],[0.58,-0.64],[0.68,-0.66],[0.79,-0.61],[0.9,-0.68],[1.01,-0.63],[1.13,-0.65],[1.26,-0.67],
  [-1.57,-0.77],[-1.46,-0.72],[-1.35,-0.76],[-1.25,-0.79],[-1.14,-0.71],[-1.03,-0.75],[-0.93,-0.78],[-0.82,-0.73],[-0.71,-0.77],[-0.61,-0.71],[-0.5,-0.74],[-0.4,-0.79],[-0.29,-0.72],[-0.18,-0.76],[-0.08,-0.73],[0.03,-0.78],[0.13,-0.71],[0.24,-0.75],[0.35,-0.77],[0.45,-0.72],[0.56,-0.79],[0.66,-0.74],[0.77,-0.76],[0.88,-0.71],[0.99,-0.78],[1.12,-0.73],
  [-1.47,-0.83],[-1.36,-0.87],[-1.25,-0.82],[-1.15,-0.86],[-1.04,-0.89],[-0.93,-0.81],[-0.83,-0.85],[-0.72,-0.88],[-0.62,-0.83],[-0.51,-0.87],[-0.4,-0.81],[-0.3,-0.84],[-0.19,-0.89],[-0.09,-0.82],[0.02,-0.86],[0.12,-0.88],[0.23,-0.81],[0.34,-0.85],[0.44,-0.87],[0.55,-0.82],[0.65,-0.89],[0.76,-0.84],[0.88,-0.86],[1.01,-0.81],
  [-1.37,-0.97],[-1.26,-0.92],[-1.15,-0.96],[-1.05,-0.99],[-0.94,-0.91],[-0.83,-0.95],[-0.73,-0.98],[-0.62,-0.93],[-0.52,-0.97],[-0.41,-0.91],[-0.3,-0.94],[-0.2,-0.99],[-0.09,-0.92],[0.01,-0.96],[0.12,-0.93],[0.22,-0.98],[0.33,-0.91],[0.44,-0.95],[0.54,-0.97],[0.65,-0.92],[0.76,-0.99],[0.89,-0.94],
  [-1.26,-1.03],[-1.15,-1.07],[-1.04,-1.02],[-0.94,-1.06],[-0.83,-1.09],[-0.72,-1.01],[-0.62,-1.05],[-0.51,-1.08],[-0.41,-1.03],[-0.3,-1.07],[-0.19,-1.01],[-0.09,-1.04],[0.02,-1.09],[0.12,-1.02],[0.23,-1.06],[0.34,-1.08],[0.44,-1.01],[0.56,-1.05],[0.69,-1.07],
  [-1.16,-1.17],[-1.04,-1.12],[-0.93,-1.16],[-0.82,-1.19],[-0.71,-1.11],[-0.61,-1.15],[-0.5,-1.18],[-0.39,-1.13],[-0.29,-1.17],[-0.18,-1.11],[-0.07,-1.14],[0.03,-1.19],[0.14,-1.12],[0.26,-1.16],[0.39,-1.13],[0.53,-1.18],
  [-1.02,-1.23],[-0.9,-1.27],[-0.78,-1.22],[-0.67,-1.26],[-0.56,-1.29],[-0.45,-1.21],[-0.34,-1.25],[-0.23,-1.28],[-0.12,-1.23],[-0.01,-1.27],[0.11,-1.21],[0.24,-1.24],[0.38,-1.29]
];

const xTicks = [-4, -3, -2, -1, 0, 1, 2, 3];
const yTicks = [-3, -2, -1, 0, 1, 2, 3];

const W = 400, H = 378;
const box = { left: 30.5, right: 386.5, top: 74.5, bottom: 355 };

const svg = d3.select("#viz").append("svg")
    .attr("width", W)
    .attr("height", H);

const x = d3.scaleLinear().domain([-4.16, 3.9]).range([box.left, box.right]);
const y = d3.scaleLinear().domain([-3.1, 3.26]).range([box.bottom, box.top]);

svg.append("clipPath").attr("id", "plot")
  .append("rect")
    .attr("x", box.left).attr("y", box.top)
    .attr("width", box.right - box.left).attr("height", box.bottom - box.top);

const g = svg.append("g").attr("clip-path", "url(#plot)");

// data cloud
g.selectAll(".pt")
  .data(outerPoints.concat(corePoints, densePoints))
  .join("circle")
    .attr("class", "pt")
    .attr("cx", d => x(d[0]))
    .attr("cy", d => y(d[1]))
    .attr("r", 1.25)
    .attr("fill", "#686868");

// voronoi cells of the centroids
const delaunay = d3.Delaunay.from(centroids, d => x(d[0]), d => y(d[1]));
const voronoi = delaunay.voronoi([box.left, box.top, box.right, box.bottom]);
g.append("path")
    .attr("d", voronoi.render())
    .attr("fill", "none")
    .attr("stroke", "#0a6cb8")
    .attr("stroke-width", 2);

// centroid markers
g.selectAll(".ring")
  .data(centroids)
  .join("circle")
    .attr("class", "ring")
    .attr("cx", d => x(d[0]))
    .attr("cy", d => y(d[1]))
    .attr("r", 5.2)
    .attr("fill", "none")
    .attr("stroke", "#f21818")
    .attr("stroke-width", 1.8);

g.selectAll(".cdot")
  .data(centroids)
  .join("circle")
    .attr("class", "cdot")
    .attr("cx", d => x(d[0]))
    .attr("cy", d => y(d[1]))
    .attr("r", 1.2)
    .attr("fill", "#2a7fc0");

// box + ticks (matlab style, ticks inside)
svg.append("rect")
    .attr("x", box.left).attr("y", box.top)
    .attr("width", box.right - box.left).attr("height", box.bottom - box.top)
    .attr("fill", "none")
    .attr("stroke", "#a0a0a0")
    .attr("stroke-width", 1);

const fmt = d => String(d);

const axB = svg.append("g")
    .attr("transform", `translate(0,${box.bottom})`)
    .call(d3.axisBottom(x).tickValues(xTicks).tickFormat(fmt).tickSizeInner(-3.5).tickSizeOuter(0).tickPadding(8));
const axT = svg.append("g")
    .attr("transform", `translate(0,${box.top})`)
    .call(d3.axisTop(x).tickValues(xTicks).tickFormat("").tickSizeInner(-3.5).tickSizeOuter(0));
const axL = svg.append("g")
    .attr("transform", `translate(${box.left},0)`)
    .call(d3.axisLeft(y).tickValues(yTicks).tickFormat(fmt).tickSizeInner(-3.5).tickSizeOuter(0).tickPadding(7));
const axR = svg.append("g")
    .attr("transform", `translate(${box.right},0)`)
    .call(d3.axisRight(y).tickValues(yTicks).tickFormat("").tickSizeInner(-3.5).tickSizeOuter(0));

[axB, axT, axL, axR].forEach(a => {
  a.select(".domain").remove();
  a.selectAll(".tick line").attr("stroke", "#a0a0a0");
  a.selectAll("text")
    .attr("fill", "#333")
    .style("font-family", "'Liberation Sans', Arial, sans-serif")
    .style("font-size", "10.5px");
});
</script>
</body>
</html>
